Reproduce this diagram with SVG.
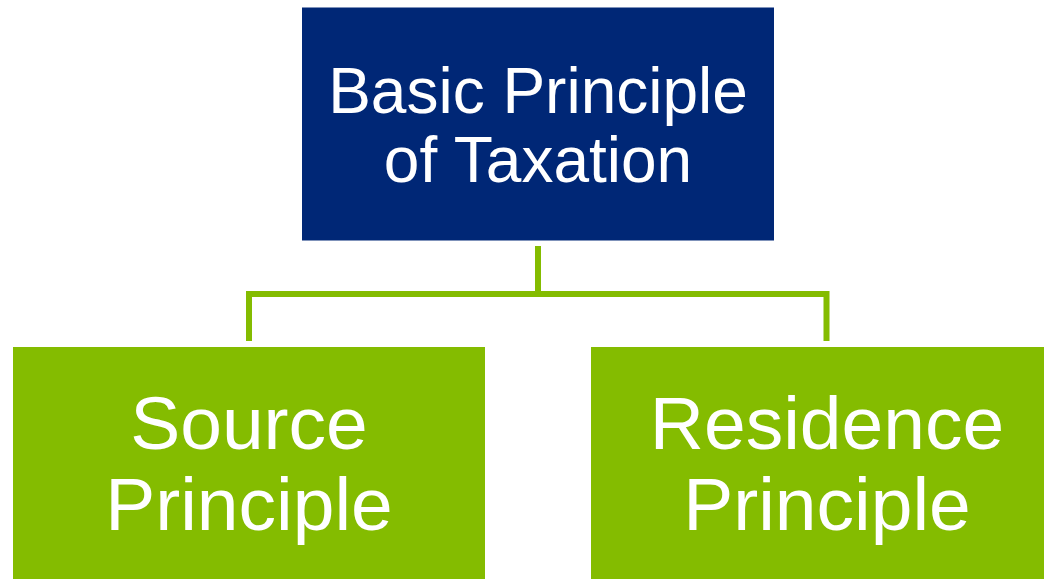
<svg xmlns="http://www.w3.org/2000/svg" width="1044" height="579" viewBox="0 0 1044 579">
<style>
.lbl{font-family:"Liberation Sans",Arial,sans-serif;fill:#ffffff;text-anchor:middle}
.top{font-size:64px}
.sub{font-size:75px}
.conn{fill:none;stroke:#84BC00;stroke-width:6;stroke-linejoin:miter}
</style>
<rect width="1044" height="579" fill="#ffffff"/>
<g id="connectors">
<path class="conn" d="M538,246 V294"/>
<path class="conn" d="M249,341 V294 H826.5 V341"/>
</g>
<g id="node-basic">
<rect x="302" y="7.5" width="472" height="233" fill="#002776"/>
<text class="lbl top" x="538" y="113">Basic Principle</text>
<text class="lbl top" x="538" y="182">of Taxation</text>
</g>
<g id="node-source">
<rect x="13" y="347" width="472" height="240" fill="#84BC00"/>
<text class="lbl sub" x="249" y="449">Source</text>
<text class="lbl sub" x="249" y="530">Principle</text>
</g>
<g id="node-residence">
<rect x="591" y="347" width="472" height="240" fill="#84BC00"/>
<text class="lbl sub" x="827" y="449">Residence</text>
<text class="lbl sub" x="827" y="530">Principle</text>
</g>
</svg>
